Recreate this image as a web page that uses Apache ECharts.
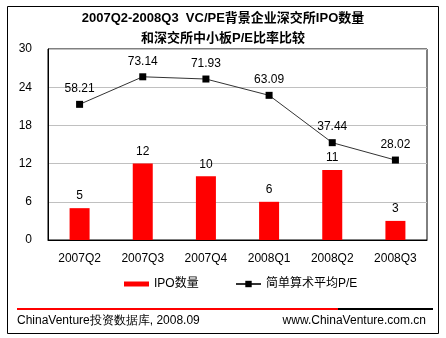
<!DOCTYPE html>
<html><head><meta charset="utf-8">
<script src="https://cdn.jsdelivr.net/npm/echarts@6/dist/echarts.min.js"></script>
<style>html,body{margin:0;padding:0;background:#fff}#c{width:446px;height:338px}</style>
</head><body><div id="c"></div>
<script>
var categories = ['2007Q2','2007Q3','2007Q4','2008Q1','2008Q2','2008Q3'];
var ipoCount = [5, 12, 10, 6, 11, 3];
var avgPE = [58.21, 73.14, 71.93, 63.09, 37.44, 28.02];
var leftTicks = [0, 6, 12, 18, 24, 30];

var FONT = 'Liberation Sans, Arial, "Noto Sans CJK SC", sans-serif';
var chart = echarts.init(document.getElementById('c'), null, {renderer: 'canvas'});
chart.setOption({
  animation: false,
  backgroundColor: '#fff',
  textStyle: {fontFamily: FONT},
  title: {
    text: '2007Q2-2008Q3  VC/PE背景企业深交所IPO数量\n和深交所中小板P/E比率比较',
    left: 'center', top: 3,
    textStyle: {fontSize: 13, fontWeight: 'bold', color: '#000', lineHeight: 20, fontFamily: FONT}
  },
  grid: {left: 48, right: 19, top: 49, bottom: 98, show: true, borderColor: '#000', borderWidth: 1},
  legend: [
    {data: ['IPO数量'], left: 119, top: 273, itemWidth: 25, itemHeight: 5, itemGap: 4,
     icon: 'rect', textStyle: {fontSize: 12, color: '#000', fontFamily: FONT}},
    {data: ['简单算术平均P/E'], left: 230, top: 273, itemWidth: 25, itemHeight: 8,
     textStyle: {fontSize: 12, color: '#000', fontFamily: FONT}}
  ],
  xAxis: {
    type: 'category', data: categories,
    axisLine: {show: true, lineStyle: {color: '#000'}},
    axisTick: {show: false},
    axisLabel: {color: '#000', fontSize: 12, margin: 13, fontFamily: FONT}
  },
  yAxis: [
    {type: 'value', min: leftTicks[0], max: leftTicks[leftTicks.length-1], interval: 6,
     axisLine: {show: true, lineStyle: {color: '#000'}},
     axisTick: {show: false},
     axisLabel: {color: '#000', fontSize: 12, margin: 16, fontFamily: FONT},
     splitLine: {lineStyle: {color: '#c0c0c0', width: 1}}},
    {type: 'value', min: -15.3, max: 88.2, show: false, splitLine: {show: false}}
  ],
  series: [
    {name: 'IPO数量', type: 'bar', data: ipoCount, barWidth: 20,
     itemStyle: {color: '#ff0000'},
     label: {show: true, position: 'top', distance: 6, color: '#000', fontSize: 12, fontFamily: FONT}},
    {name: '简单算术平均P/E', type: 'line', yAxisIndex: 1, data: avgPE,
     symbol: 'rect', symbolSize: 7,
     lineStyle: {color: '#333', width: 1},
     itemStyle: {color: '#000'},
     label: {show: true, position: 'top', distance: 6, color: '#000', fontSize: 12, fontFamily: FONT,
       formatter: function(p){ return p.value.toFixed(2); }}}
  ],
  graphic: [
    {type: 'rect', shape: {x: 7.5, y: 6.5, width: 431, height: 327}, style: {fill: 'none', stroke: '#000', lineWidth: 1}, silent: true},
    {type: 'line', shape: {x1: 17, y1: 309, x2: 338, y2: 309}, style: {stroke: '#ff0000', lineWidth: 2}},
    {type: 'line', shape: {x1: 338, y1: 309, x2: 433, y2: 309}, style: {stroke: '#000', lineWidth: 2}},
    {type: 'text', left: 17, top: 315, style: {text: 'ChinaVenture投资数据库, 2008.09', fontSize: 12, fill: '#000', font: '12px ' + FONT}},
    {type: 'text', right: 20, top: 315, style: {text: 'www.ChinaVenture.com.cn', fontSize: 12, fill: '#000', font: '12px ' + FONT}}
  ]
});
</script></body></html>
